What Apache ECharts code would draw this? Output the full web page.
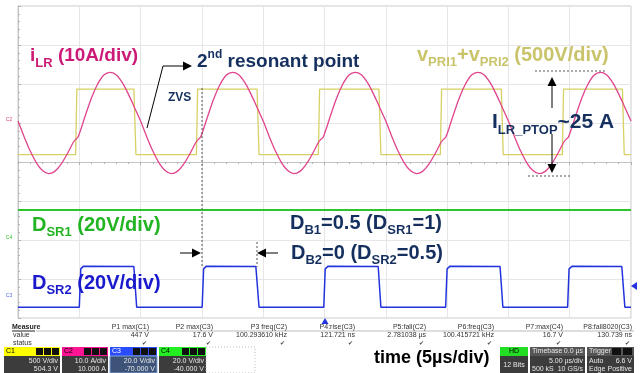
<!DOCTYPE html>
<html>
<head>
<meta charset="utf-8">
<script src="https://cdn.jsdelivr.net/npm/echarts@6/dist/echarts.min.js"></script>
<style>
    html, body {margin: 0; padding: 0; background: #fff;}
    #scope {width: 642px; height: 373px;}
</style>
</head>
<body>
<div id="scope"></div>
<script>
// ---- waveform data ----
// iLR, resonant current [us, A]
const iLrTime = [
    0, 0.5, 1, 1.5, 2, 2.5, 3, 3.5, 4, 4.5, 4.7, 4.9, 5.5, 6, 6.5, 7, 7.5, 8, 8.5, 9, 9.5,
    10, 10.5, 11, 11.5, 12, 12.5, 13, 13.5, 14, 14.5, 14.7, 14.9, 15.5, 16, 16.5, 17, 17.5, 18, 18.5, 19, 19.5,
    20, 20.5, 21, 21.5, 22, 22.5, 23, 23.5, 24, 24.5, 24.7, 24.9, 25.5, 26, 26.5, 27, 27.5, 28, 28.5, 29, 29.5,
    30, 30.5, 31, 31.5, 32, 32.5, 33, 33.5, 34, 34.5, 34.7, 34.9, 35.5, 36, 36.5, 37, 37.5, 38, 38.5, 39, 39.5,
    40, 40.5, 41, 41.5, 42, 42.5, 43, 43.5, 44, 44.5, 44.7, 44.9, 45.5, 46, 46.5, 47, 47.5, 48, 48.5, 49, 49.5,
    50
];
const iLrAmp = [
    0.5, -3.5, -7.2, -10.2, -12.2, -13, -12.4, -10.6, -8, -5, -4.2, -3.6, 2, 6.5, 10, 12.3, 13, 12.4, 10.4, 7.4, 4,
    0.5, -3.5, -7.2, -10.2, -12.2, -13, -12.4, -10.6, -8, -5, -4.2, -3.6, 2, 6.5, 10, 12.3, 13, 12.4, 10.4, 7.4, 4,
    0.5, -3.5, -7.2, -10.2, -12.2, -13, -12.4, -10.6, -8, -5, -4.2, -3.6, 2, 6.5, 10, 12.3, 13, 12.4, 10.4, 7.4, 4,
    0.5, -3.5, -7.2, -10.2, -12.2, -13, -12.4, -10.6, -8, -5, -4.2, -3.6, 2, 6.5, 10, 12.3, 13, 12.4, 10.4, 7.4, 4,
    0.5, -3.5, -7.2, -10.2, -12.2, -13, -12.4, -10.6, -8, -5, -4.2, -3.6, 2, 6.5, 10, 12.3, 13, 12.4, 10.4, 7.4, 4,
    0.5
];
// vPRI1 + vPRI2 [us, V]
const vPriTime = [0, 4.7, 4.8, 9.45, 9.62, 14.55, 14.65, 19.5, 19.66, 24.5, 24.6, 29.44, 29.6,
    34.45, 34.55, 39.42, 39.58, 44.4, 44.5, 49.3, 49.45, 50];
const vPriVolt = [-410, -410, 430, 430, -410, -410, 430, 430, -410, -410, 430, 430, -410,
    -410, 430, 430, -410, -410, 430, 430, -410, -410];
// DSR1 gate [us, V]
const dsr1Time = [0, 50];
const dsr1Volt = [15.4, 15.4];
// DSR2 gate [us, V]
const dsr2Time = [0, 5.0, 5.12, 5.35, 9.45, 9.68, 15.02, 15.14, 15.37, 19.4, 19.66,
    24.94, 25.06, 25.3, 29.38, 29.6, 34.88, 35.0, 35.24, 39.32, 39.55,
    44.83, 44.95, 45.2, 49.25, 49.5, 50];
const dsr2Volt = [-4.5, -4.5, 15.2, 16.6, 16.4, -4.5, -4.5, 15.2, 16.6, 16.4, -4.5,
    -4.5, 15.2, 16.6, 16.4, -4.5, -4.5, 15.2, 16.6, 16.4, -4.5,
    -4.5, 15.2, 16.6, 16.4, -4.5, -4.5];

// ---- scope readout ----
const measureNames = ['P1 max(C1)', 'P2 max(C3)', 'P3 freq(C2)', 'P4:rise(C3)', 'P5:fall(C2)', 'P6:freq(C3)', 'P7:max(C4)', 'P8:fall8020(C3)'];
const measureValues = ['447 V', '17.6 V', '100.293610 kHz', '121.721 ns', '2.781038 µs', '100.415721 kHz', '16.7 V', '130.739 ns'];
const chanNames = ['C1', 'C2', 'C3', 'C4'];
const chanScale = ['500 V/div', '10.0 A/div', '20.0 V/div', '20.0 V/div'];
const chanOffset = ['504.3 V', '10.000 A', '-70.000 V', '-40.000 V'];

const FONT = "'Liberation Sans', Arial, sans-serif";
const NAVY = '#15305f';
const C_ILR = '#e0448c', C_VPRI = '#d6d164', C_DSR1 = '#2ec42e', C_DSR2 = '#2233dd';

const pairs = (t, v) => t.map((x, i) => [x, v[i]]);

function rich(color, big, small) {
    return {
        b: {fontSize: big, fontWeight: 'bold', fontFamily: FONT, fill: color, lineHeight: big + 8},
        s: {fontSize: small, fontWeight: 'bold', fontFamily: FONT, fill: color, lineHeight: small + 2, verticalAlign: 'bottom'},
        u: {fontSize: small, fontWeight: 'bold', fontFamily: FONT, fill: color, lineHeight: small + 2, verticalAlign: 'top'}
    };
}
function richText(x, y, text, color, big, small) {
    return {
        type: 'text', x: x, y: y, silent: true, z: 100,
        style: {text: text, rich: rich(color, big, small), textAlign: 'left', align: 'left',
            textVerticalAlign: 'middle', verticalAlign: 'middle'}
    };
}
function txt(x, y, text, size, color, align, weight) {
    return {
        type: 'text', x: x, y: y, silent: true, z: 100,
        style: {text: text, fill: color, font: (weight || 'normal') + ' ' + size + 'px ' + FONT,
            textAlign: align || 'left', align: align || 'left', textVerticalAlign: 'middle', verticalAlign: 'middle'}
    };
}
function rect(x, y, w, h, fill, stroke) {
    return {type: 'rect', silent: true, z: 90, shape: {x: x, y: y, width: w, height: h},
        style: {fill: fill, stroke: stroke || null, lineWidth: stroke ? 1 : 0}};
}
function line(x1, y1, x2, y2, color, dash, w) {
    return {type: 'line', silent: true, z: 95, shape: {x1: x1, y1: y1, x2: x2, y2: y2},
        style: {stroke: color, lineWidth: w || 1, lineDash: dash || null}};
}
function tri(points, color) {
    return {type: 'polygon', silent: true, z: 96, shape: {points: points}, style: {fill: color}};
}

// annotations on the screen
const notes = [
    richText(30, 56, '{b|i}{s|LR}{b| (10A/div)}', '#cc1a77', 19, 13),
    richText(197, 62, '{b|2}{u|nd}{b| resonant point}', NAVY, 19, 12),
    txt(168, 98, 'ZVS', 12, NAVY, 'left', 'bold'),
    richText(417, 55, '{b|v}{s|PRI1}{b|+v}{s|PRI2}{b| (500V/div)}', '#c9c46a', 20, 13),
    richText(492, 122, '{b|I}{s|LR_PTOP}{b|~25 A}', NAVY, 21, 13),
    richText(32, 225, '{b|D}{s|SR1}{b| (20V/div)}', '#22b422', 20, 13),
    richText(290, 223, '{b|D}{s|B1}{b|=0.5 (D}{s|SR1}{b|=1)}', NAVY, 20, 13),
    richText(291, 253, '{b|D}{s|B2}{b|=0 (D}{s|SR2}{b|=0.5)}', NAVY, 20, 13),
    richText(32, 283, '{b|D}{s|SR2}{b| (20V/div)}', '#1a1acc', 20, 13),
    // arrow to the 2nd resonant point
    {type: 'polyline', silent: true, z: 95, shape: {points: [[147, 128], [163, 66], [185, 66]]},
        style: {stroke: '#000', lineWidth: 1, fill: null}},
    tri([[192, 66], [183, 61.5], [183, 70.5]], '#000'),
    // ZVS cursors and dead time arrows
    line(202, 88, 202, 266, '#555', [2, 2]),
    line(257, 242, 257, 267, '#555', [2, 2]),
    line(180, 253, 193, 253, '#000'),
    tri([[201, 253], [192, 248.5], [192, 257.5]], '#000'),
    line(265, 253, 278, 253, '#000'),
    tri([[257, 253], [266, 248.5], [266, 257.5]], '#000'),
    // peak to peak markers
    line(535, 71, 607, 71, '#555', [2, 2]),
    line(528, 176, 570, 176, '#555', [2, 2]),
    line(552, 85, 552, 108, '#000'),
    tri([[552, 77], [547.5, 86], [556.5, 86]], '#000'),
    line(552, 134, 552, 165, '#000'),
    tri([[552, 173], [547.5, 164], [556.5, 164]], '#000'),
    // channel ground markers and trigger marks
    txt(9, 120, 'C2', 5, '#e0448c', 'center'),
    txt(9, 238, 'C4', 5, '#2ec42e', 'center'),
    txt(9, 296, 'C3', 5, '#5566ee', 'center'),
    tri([[631, 286], [637, 282], [637, 290]], '#2233dd'),
    tri([[325, 318], [321.5, 324], [328.5, 324]], '#2233dd')
];

// measurement table and channel boxes below the screen
function readout() {
    const els = [];
    const colRight = [149, 213, 287, 355, 426, 494, 563, 632];
    els.push(txt(12, 327, 'Measure', 7, '#222', 'left', 'bold'));
    els.push(line(12, 331, 35, 331, '#222'));
    els.push(line(36, 331, 634, 331, '#bbb'));
    els.push(txt(13, 335, 'value', 7, '#333'));
    els.push(txt(13, 343, 'status', 7, '#333'));
    measureNames.forEach((n, i) => {
        els.push(txt(colRight[i], 327, n, 7, '#333', 'right'));
        els.push(txt(colRight[i], 335, measureValues[i], 7, '#333', 'right'));
        els.push(txt(colRight[i] - 2, 343, '✔', 6, '#444', 'right'));
    });
    const boxX = [4, 62, 110, 159], boxW = [56, 46, 47, 47];
    const head = ['#ffff00', '#ff1493', '#2a4cff', '#22ee22'];
    chanNames.forEach((c, i) => {
        els.push(rect(boxX[i], 347, boxW[i], 9, head[i]));
        els.push(txt(boxX[i] + 2, 351.5, c, 7, i === 2 ? '#fff' : '#000'));
        for (let k = 0; k < 3; k++) {
            els.push(rect(boxX[i] + boxW[i] - 24 + k * 8, 348, 7, 7, '#111'));
        }
        els.push(rect(boxX[i], 356, boxW[i], 17, i === 2 ? '#3d5478' : '#3c3c3c', i === 2 ? '#7fa0d8' : null));
        els.push(txt(boxX[i] + boxW[i] - 2, 361, chanScale[i], 7, '#e8e8e8', 'right'));
        els.push(txt(boxX[i] + boxW[i] - 2, 369, chanOffset[i], 7, '#e8e8e8', 'right'));
    });
    els.push({type: 'rect', silent: true, z: 90, shape: {x: 206, y: 347, width: 49, height: 26},
        style: {fill: null, stroke: '#bbb', lineWidth: 1, lineDash: [1, 2]}});
    els.push(txt(374, 358, 'time (5µs/div)', 18, '#000', 'left', 'bold'));
    // HD
    els.push(rect(500, 347, 28, 9, '#22dd22'));
    els.push(txt(514, 351.5, 'HD', 7, '#000', 'center'));
    els.push(rect(500, 356, 28, 17, '#3c3c3c'));
    els.push(txt(514, 365, '12 Bits', 7, '#e8e8e8', 'center'));
    // timebase
    els.push(rect(530, 347, 55, 9, '#555'));
    els.push(txt(532, 351.5, 'Timebase', 7, '#e8e8e8'));
    els.push(txt(583, 351.5, '0.0 µs', 7, '#e8e8e8', 'right'));
    els.push(rect(530, 356, 55, 17, '#3c3c3c'));
    els.push(txt(583, 361, '5.00 µs/div', 7, '#e8e8e8', 'right'));
    els.push(txt(532, 369, '500 kS', 7, '#e8e8e8'));
    els.push(txt(583, 369, '10 GS/s', 7, '#e8e8e8', 'right'));
    // trigger
    els.push(rect(587, 347, 47, 9, '#555'));
    els.push(txt(589, 351.5, 'Trigger', 7, '#e8e8e8'));
    els.push(rect(612, 348, 9, 7, '#111'));
    els.push(rect(623, 348, 9, 7, '#111'));
    els.push(rect(587, 356, 47, 17, '#3c3c3c'));
    els.push(txt(589, 361, 'Auto', 7, '#e8e8e8'));
    els.push(txt(632, 361, '6.6 V', 7, '#e8e8e8', 'right'));
    els.push(txt(589, 369, 'Edge', 7, '#e8e8e8'));
    els.push(txt(632, 369, 'Positive', 7, '#e8e8e8', 'right'));
    return els;
}

const chart = echarts.init(document.getElementById('scope'), null, {renderer: 'canvas'});

// hidden value axes, one per channel (8 div each)
function chanAxis(min, max) {
    return {type: 'value', show: false, min: min, max: max, gridIndex: 0};
}
const hidden = (grid, min, max) => ({type: 'value', gridIndex: grid, min: min, max: max, show: false});
const centerTicks = {
    axisLine: {show: true, lineStyle: {color: '#c4c4c4'}},
    axisTick: {show: true, length: 3, lineStyle: {color: '#b4b4b4'}},
    minorTick: {show: true, splitNumber: 5, length: 2, lineStyle: {color: '#b4b4b4'}},
    axisLabel: {show: false}, splitLine: {show: false}
};

const option = {
    animation: false,
    backgroundColor: '#ffffff',
    grid: [
        {left: 18, top: 6, width: 613, height: 312, show: true, borderColor: '#c8c8c8', borderWidth: 1},
        {left: 18, top: 6, width: 613, height: 156},    // its bottom edge is the horizontal centre line
        {left: 18, top: 6, width: 306.5, height: 312}   // its right edge is the vertical centre line
    ],
    xAxis: [
        {
            type: 'value', min: 0, max: 50, interval: 5,
            axisLine: {show: false}, axisTick: {show: false}, axisLabel: {show: false},
            splitLine: {show: true, lineStyle: {color: '#e6e6e6', width: 1}}
        },
        Object.assign({type: 'value', gridIndex: 1, min: 0, max: 50, interval: 5, position: 'bottom'}, centerTicks),
        hidden(2, 0, 25)
    ],
    yAxis: [
        {
            type: 'value', min: 0, max: 8, interval: 1,
            axisLine: {show: false}, axisTick: {show: false}, axisLabel: {show: false},
            splitLine: {show: true, lineStyle: {color: '#e6e6e6', width: 1}}
        },
        hidden(1, 4, 8),
        Object.assign({type: 'value', gridIndex: 2, min: 0, max: 8, interval: 1, position: 'right'}, centerTicks),
        chanAxis(-2504.3, 1495.7),   // C1 500 V/div, offset 504.3 V
        chanAxis(-50, 30),           // C2 10 A/div, offset 10 A
        chanAxis(-40, 120),          // C4 20 V/div, offset -40 V
        chanAxis(-10, 150)           // C3 20 V/div, offset -70 V
    ],
    series: [
        {
            name: 'vPRI1+vPRI2', type: 'line', yAxisIndex: 3, showSymbol: false, silent: true,
            data: pairs(vPriTime, vPriVolt),
            lineStyle: {color: C_VPRI, width: 1.3}
        },
        {
            name: 'iLR', type: 'line', yAxisIndex: 4, showSymbol: false, silent: true, smooth: 0.35,
            data: pairs(iLrTime, iLrAmp),
            lineStyle: {color: C_ILR, width: 1.3}
        },
        {
            name: 'DSR1', type: 'line', yAxisIndex: 5, showSymbol: false, silent: true,
            data: pairs(dsr1Time, dsr1Volt),
            lineStyle: {color: C_DSR1, width: 2}
        },
        {
            name: 'DSR2', type: 'line', yAxisIndex: 6, showSymbol: false, silent: true,
            data: pairs(dsr2Time, dsr2Volt),
            lineStyle: {color: C_DSR2, width: 1.5}
        }
    ],
    graphic: {elements: notes.concat(readout())}
};

chart.setOption(option);
</script>
</body>
</html>
